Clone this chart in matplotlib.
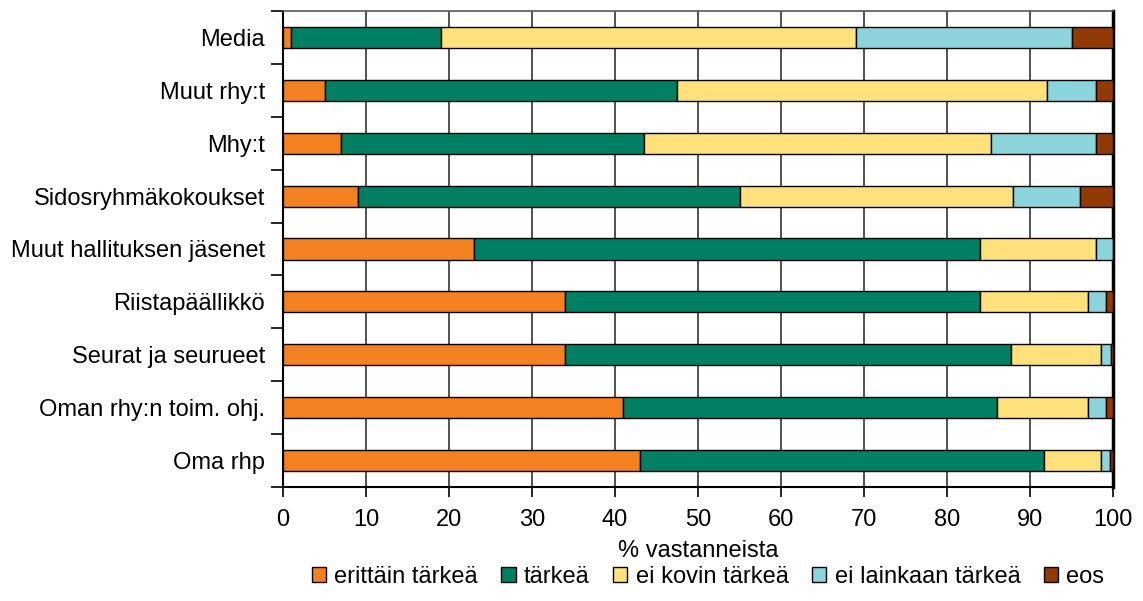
import numpy as np
import matplotlib.pyplot as plt
from matplotlib.patches import Patch

plt.rcParams['font.family'] = ['Liberation Sans', 'DejaVu Sans']
plt.rcParams['font.size'] = 17

categories = ['Media', 'Muut rhy:t', 'Mhy:t', 'Sidosryhmäkokoukset',
              'Muut hallituksen jäsenet', 'Riistapäällikkö',
              'Seurat ja seurueet', 'Oman rhy:n toim. ohj.', 'Oma rhp']
series = ['erittäin tärkeä', 'tärkeä', 'ei kovin tärkeä',
          'ei lainkaan tärkeä', 'eos']

erittain = [1, 5, 7, 9, 23, 34, 34, 41, 43]
tarkea = [18, 42.5, 36.5, 46, 61, 50, 53.7, 45, 48.7]
ei_kovin = [50, 44.5, 41.8, 33, 14, 13, 10.9, 11, 6.8]
ei_lainkaan = [26, 6, 12.7, 8, 2, 2.2, 1.1, 2.2, 1.1]
eos = [5, 2, 2, 4, 0, 0.8, 0.4, 0.8, 0.4]

colors = ['#F38021', '#007F62', '#FFE17C', '#8BD4DC', '#923A04']

fig = plt.figure(figsize=(11.43, 6.01), dpi=100)
ax = fig.add_axes([283 / 1143, 114 / 601, 830 / 1143, 476 / 601])

y = np.arange(len(categories))
left = np.zeros(len(categories))
for vals, c in zip([erittain, tarkea, ei_kovin, ei_lainkaan, eos], colors):
    vals = np.array(vals)
    ax.barh(y, vals, left=left, height=0.4, color=c, edgecolor='black',
            linewidth=1, zorder=3)
    left += vals

ax.set_xlim(0, 100)
ax.set_ylim(len(categories) - 0.5, -0.5)
ax.set_xticks(np.arange(0, 101, 10))
ax.set_yticks(y)
ax.set_yticklabels(categories)
ax.set_yticks(np.arange(-0.5, len(categories), 1), minor=True)
ax.tick_params(axis='y', which='major', length=0, pad=13)
ax.tick_params(axis='y', which='minor', length=9, width=1.2, direction='out')
ax.tick_params(axis='x', length=7, width=1.2, direction='out', pad=9)
ax.grid(axis='x', color='#333333', linewidth=1.2, zorder=0)
ax.set_axisbelow(True)

for side in ['left', 'bottom']:
    ax.spines[side].set_linewidth(1.5)
ax.spines['right'].set_linewidth(2.5)
ax.spines['top'].set_color('#555555')
ax.spines['top'].set_linewidth(1.2)

ax.set_xlabel('% vastanneista', labelpad=6)

handles = [Patch(facecolor=c, edgecolor='black', linewidth=1) for c in colors]
fig.legend(handles, series, loc='center', bbox_to_anchor=(708 / 1143, 1 - 577 / 601),
           ncol=5, frameon=False, handlelength=0.6, handleheight=0.6,
           handletextpad=0.35, columnspacing=1.0)

fig.savefig('out.png', dpi=100)
